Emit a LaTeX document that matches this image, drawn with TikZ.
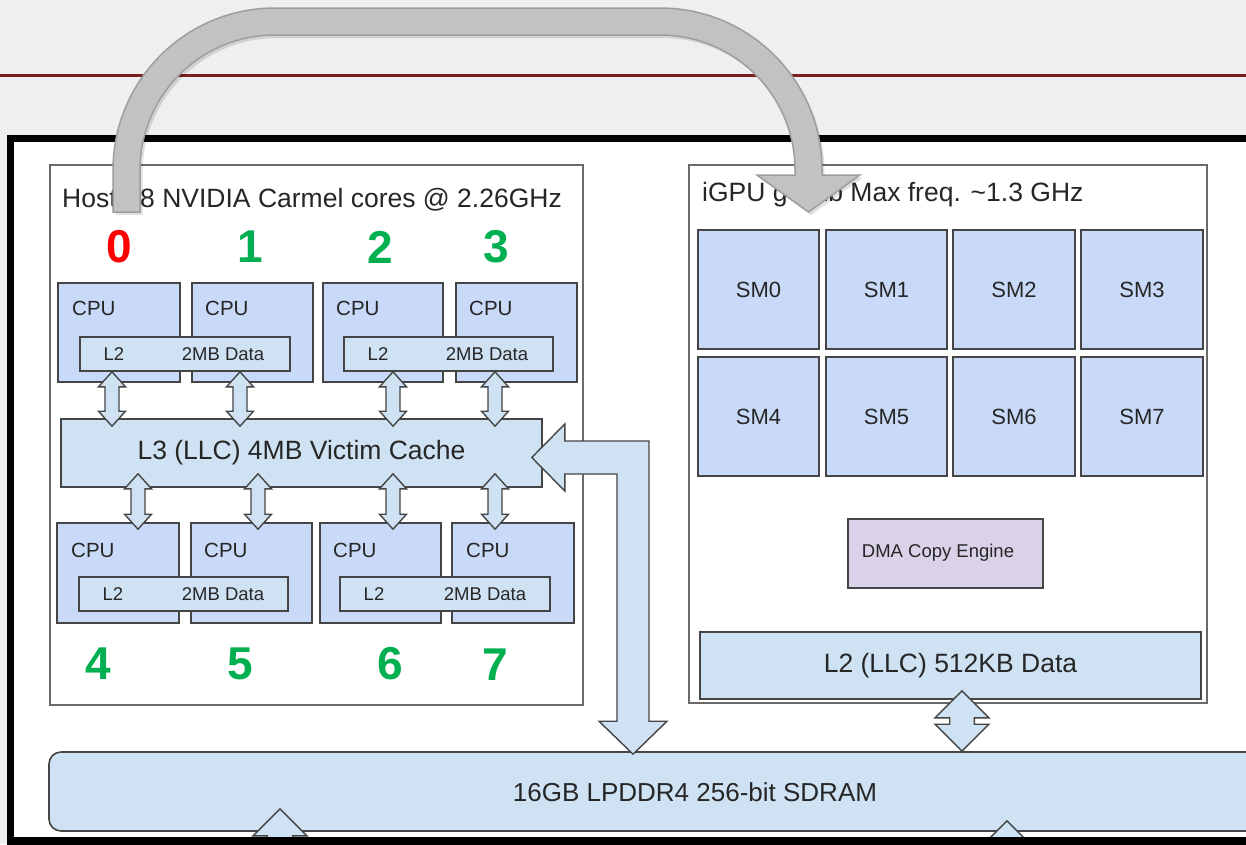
\documentclass[tikz,border=0pt]{standalone}
\usepackage{fontspec}
\setmainfont{Liberation Sans}
\usetikzlibrary{fit,calc}
\definecolor{bggray}{HTML}{EFEFEF}
\definecolor{maroonline}{HTML}{7A1E1E}
\definecolor{cpufill}{HTML}{C9DAF8}
\definecolor{cachefill}{HTML}{CFE2F3}
\definecolor{dmafill}{HTML}{D9D2E9}
\definecolor{edgec}{HTML}{454545}
\definecolor{boxedge}{HTML}{6A6A6A}
\definecolor{txt}{HTML}{262626}
\definecolor{numgreen}{HTML}{00B050}
\definecolor{numred}{HTML}{FF0000}
\definecolor{arrowfill}{HTML}{C2C2C2}
\definecolor{arrowedge}{HTML}{9E9E9E}
\newcommand{\myfs}[1]{\fontsize{#1}{#1}\selectfont}
\newcommand{\vdbl}[5]{%
  \draw[blockarrow] let \p1=#1, \p2=#2 in
    (\x1,\y1) -- (\x1+#3pt,\y1-#4pt) -- (\x1+#5pt,\y1-#4pt) -- (\x1+#5pt,\y2+#4pt)
    -- (\x1+#3pt,\y2+#4pt) -- (\x1,\y2) -- (\x1-#3pt,\y2+#4pt) -- (\x1-#5pt,\y2+#4pt)
    -- (\x1-#5pt,\y1-#4pt) -- (\x1-#3pt,\y1-#4pt) -- cycle;}
\newcommand{\grayarrowpath}{(113,212) -- (113,170) .. controls (113,80.5) and (185.5,8) .. (275,8)
  -- (660,8) .. controls (749.5,8) and (822,80.5) .. (822,170) -- (822,175) -- (860,175)
  -- (808.5,212) -- (757,175) -- (795,175) -- (795,170) .. controls (795,95.4) and (734.6,35) .. (660,35)
  -- (275,35) .. controls (200.4,35) and (140,95.4) .. (140,170) -- (140,212) -- cycle}
\tikzset{
  area/.style={draw=boxedge, line width=1.3pt, fill=white, inner sep=0pt},
  cpubox/.style={draw=edgec, line width=1.6pt, fill=cpufill, inner sep=0pt},
  cachebox/.style={draw=edgec, line width=1.6pt, fill=cachefill, inner sep=0pt},
  dmabox/.style={draw=edgec, line width=1.6pt, fill=dmafill, inner sep=0pt},
  blockarrow/.style={draw=edgec, line width=1.4pt, fill=cachefill, line join=miter},
  ttl/.style={font=\myfs{26.5}, text=txt, inner sep=0pt},
  cpulbl/.style={font=\myfs{20.5}, text=txt, inner sep=0pt, anchor=west},
  small/.style={font=\myfs{18.5}, text=txt, inner sep=0pt},
  smlbl/.style={font=\myfs{22}, text=txt, inner sep=0pt},
  numg/.style={font=\myfs{46}\bfseries, text=numgreen, inner sep=0pt},
  numr/.style={font=\myfs{46}\bfseries, text=numred, inner sep=0pt},
}
\begin{document}
\begin{tikzpicture}[x=1pt,y=-1pt]
\useasboundingbox (0,0) rectangle (1246,844);
\clip (0,0) rectangle (1246,844);
% background
\fill[bggray] (0,0) rectangle (1246,844);
\draw[maroonline, line width=3pt] (0,75) -- (1246,75);
\fill[white] (10.5,138.5) rectangle (1300,841);

% host and gpu areas
\node[area, fit={(50,165) (583,705)}] (host) {};
\node[area, fit={(689,165) (1207,703)}] (gpu) {};
\node[ttl, anchor=base west] (hosttitle) at (62,207) {Host - 8 NVIDIA Carmel cores @ 2.26GHz};
\node[ttl, anchor=base west] (gputitle) at (702,201) {iGPU gv11b Max freq. \textasciitilde1.3 GHz};

% core numbers
\node[numr] (n0) at (119,247) {0};
\node[numg] (n1) at (250,247) {1};
\node[numg] (n2) at (380,247) {2};
\node[numg] (n3) at (496,247) {3};
\node[numg] (n4) at (98,664) {4};
\node[numg] (n5) at (240,664) {5};
\node[numg] (n6) at (390,664) {6};
\node[numg] (n7) at (495,665) {7};

% top CPUs
\node[cpubox, fit={(58,283) (180,382)}] (c0) {};
\node[cpubox, fit={(192,283) (313,382)}] (c1) {};
\node[cpubox, fit={(323,283) (443,382)}] (c2) {};
\node[cpubox, fit={(456,283) (577,382)}] (c3) {};
\node[cpulbl] (c0t) at (72,308) {CPU};
\node[cpulbl] (c1t) at (205,308) {CPU};
\node[cpulbl] (c2t) at (336,308) {CPU};
\node[cpulbl] (c3t) at (469,308) {CPU};
\node[cachebox, fit={(80,337) (290,371)}] (l2a) {};
\node[cachebox, fit={(344,337) (553,371)}] (l2b) {};
\node[small] (l2at) at (114,354) {L2};
\node[small] (l2ad) at (223,354) {2MB Data};
\node[small] (l2bt) at (378,354) {L2};
\node[small] (l2bd) at (487,354) {2MB Data};

% L3
\node[cachebox, fit={(61,419) (542,487)}] (l3) {};
\node[ttl] (l3t) at (l3.center) {L3 (LLC) 4MB Victim Cache};

% bottom CPUs
\node[cpubox, fit={(57,523) (179,623)}] (c4) {};
\node[cpubox, fit={(191,523) (312,623)}] (c5) {};
\node[cpubox, fit={(320,523) (441,623)}] (c6) {};
\node[cpubox, fit={(452,523) (574,623)}] (c7) {};
\node[cpulbl] (c4t) at (71,550) {CPU};
\node[cpulbl] (c5t) at (204,550) {CPU};
\node[cpulbl] (c6t) at (333,550) {CPU};
\node[cpulbl] (c7t) at (466,550) {CPU};
\node[cachebox, fit={(79,577) (288,611)}] (l2c) {};
\node[cachebox, fit={(340,577) (550,611)}] (l2d) {};
\node[small] (l2ct) at (113,594) {L2};
\node[small] (l2cd) at (223,594) {2MB Data};
\node[small] (l2dt) at (374,594) {L2};
\node[small] (l2dd) at (485,594) {2MB Data};

% x references for block arrows
\coordinate (xa0) at (112,0);
\coordinate (xa1) at (240,0);
\coordinate (xa2) at (393,0);
\coordinate (xa3) at (495,0);
\coordinate (xb0) at (138,0);
\coordinate (xb1) at (258,0);
\coordinate (xb2) at (393,0);
\coordinate (xb3) at (495,0);

% L2 <-> L3
\vdbl{(l2a.south -| xa0)}{($(l3.north -| xa0)+(0,8)$)}{13.5}{15}{7}
\vdbl{(l2a.south -| xa1)}{($(l3.north -| xa1)+(0,8)$)}{13.5}{15}{7}
\vdbl{(l2b.south -| xa2)}{($(l3.north -| xa2)+(0,8)$)}{13.5}{15}{7}
\vdbl{(l2b.south -| xa3)}{($(l3.north -| xa3)+(0,8)$)}{13.5}{15}{7}
% L3 <-> bottom CPUs
\vdbl{($(l3.south -| xb0)+(0,-14)$)}{($(c4.north -| xb0)+(0,7)$)}{13.5}{15}{7}
\vdbl{($(l3.south -| xb1)+(0,-14)$)}{($(c5.north -| xb1)+(0,7)$)}{13.5}{15}{7}
\vdbl{($(l3.south -| xb2)+(0,-14)$)}{($(c6.north -| xb2)+(0,7)$)}{13.5}{15}{7}
\vdbl{($(l3.south -| xb3)+(0,-14)$)}{($(c7.north -| xb3)+(0,7)$)}{13.5}{15}{7}

% GPU internals
\node[cpubox, fit={(698,230) (819,349)}] (sm0) {};
\node[cpubox, fit={(826,230) (947,349)}] (sm1) {};
\node[cpubox, fit={(953,230) (1075,349)}] (sm2) {};
\node[cpubox, fit={(1081,230) (1203,349)}] (sm3) {};
\node[cpubox, fit={(698,357) (819,476)}] (sm4) {};
\node[cpubox, fit={(826,357) (947,476)}] (sm5) {};
\node[cpubox, fit={(953,357) (1075,476)}] (sm6) {};
\node[cpubox, fit={(1081,357) (1203,476)}] (sm7) {};
\node[smlbl] (sm0t) at (sm0.center) {SM0};
\node[smlbl] (sm1t) at (sm1.center) {SM1};
\node[smlbl] (sm2t) at (sm2.center) {SM2};
\node[smlbl] (sm3t) at (sm3.center) {SM3};
\node[smlbl] (sm4t) at (sm4.center) {SM4};
\node[smlbl] (sm5t) at (sm5.center) {SM5};
\node[smlbl] (sm6t) at (sm6.center) {SM6};
\node[smlbl] (sm7t) at (sm7.center) {SM7};
\node[dmabox, fit={(848,519) (1043,588)}] (dma) {};
\node[small] (dmat) at (938,553) {DMA Copy Engine};
\node[cachebox, fit={(700,632) (1201,699)}] (gl2) {};
\node[ttl] (gl2t) at (gl2.center) {L2 (LLC) 512KB Data};

% SDRAM
\node[cachebox, rounded corners=12pt, fit={(49,752) (1330,831)}] (dram) {};
\node[ttl, font=\myfs{26}] (dramt) at (695,792) {16GB LPDDR4 256-bit SDRAM};

\coordinate (xg) at (962,0);
\coordinate (xd0) at (280,0);
\coordinate (xd1) at (1007,0);
% GPU L2 <-> SDRAM
\vdbl{($(gl2.south -| xg)+(0,-9)$)}{(dram.north -| xg)}{27}{27}{12.3}
% arrows leaving SDRAM downwards (cut by frame)
\vdbl{($(dram.south -| xd0)+(0,-23)$)}{($(dram.south -| xd0)+(0,90)$)}{27}{27}{12.5}
\vdbl{($(dram.south -| xd1)+(0,-11)$)}{($(dram.south -| xd1)+(0,90)$)}{27}{27}{12.5}

% SDRAM -> L3 big L-shaped arrow
\coordinate (ltip) at ($(l3.east)+(-11,4.5)$);
\coordinate (btip) at ($(dram.north -| 633,0)+(0,3)$);
\draw[blockarrow] let \p1=(ltip), \p2=(btip) in
  (\x1,\y1) -- (\x1+33pt,\y1+33.5pt) -- (\x1+33pt,\y1+16.5pt) -- (\x2+16pt,\y1+16.5pt)
  -- (\x2+16pt,\y2+33pt) -- (\x2+34pt,\y2+33pt) -- (\x2,\y2) -- (\x2-34pt,\y2+33pt)
  -- (\x2-16pt,\y2+33pt) -- (\x2-16pt,\y1-16.5pt) -- (\x1+33pt,\y1-16.5pt)
  -- (\x1+33pt,\y1-33.5pt) -- cycle;

% black frame
\draw[black, line width=7.5pt] (10.5,138.5) rectangle (1300,841);

% big gray curved arrow
\fill[black, opacity=0.12, shift={(2.5,3)}] \grayarrowpath;
\filldraw[fill=arrowfill, draw=arrowedge, line width=1.5pt, line join=miter] \grayarrowpath;
\end{tikzpicture}
\end{document}
